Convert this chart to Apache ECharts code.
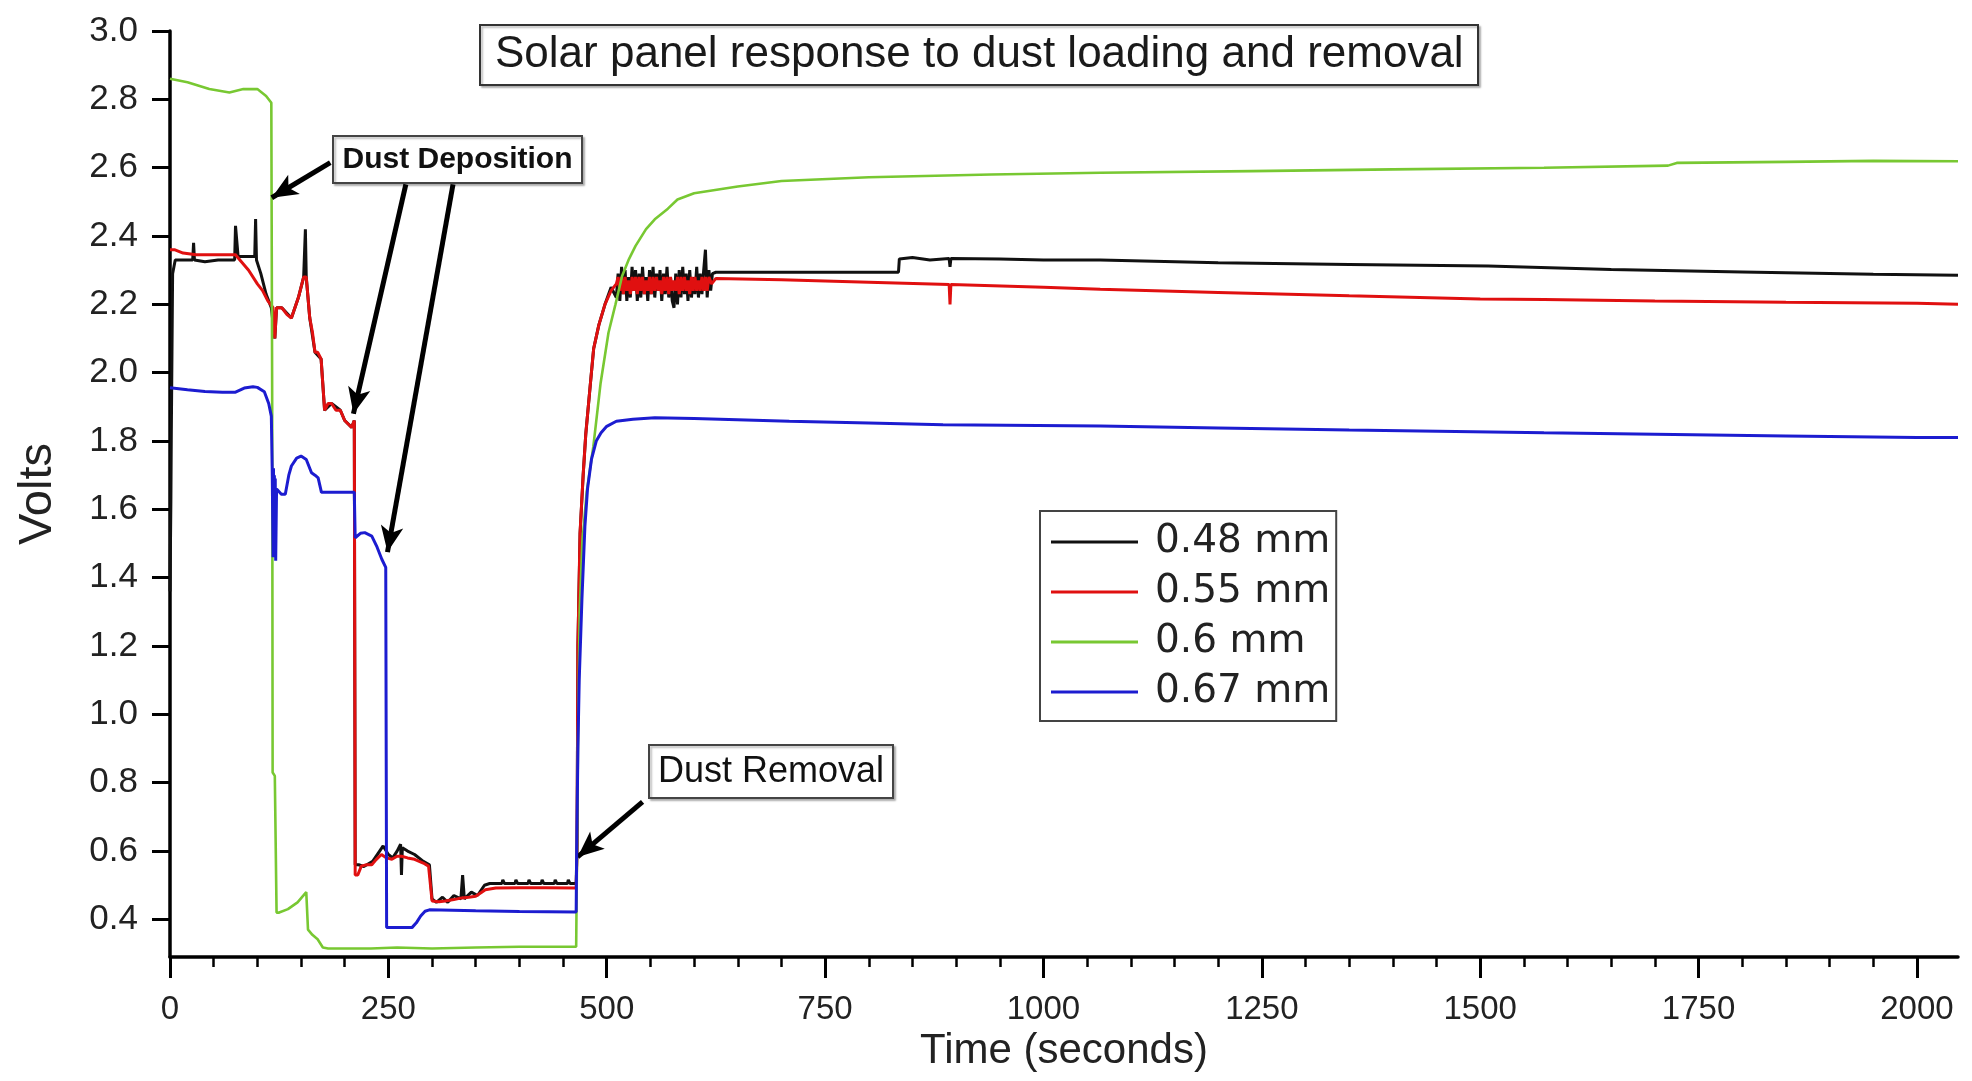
<!DOCTYPE html>
<html>
<head>
<meta charset="utf-8">
<script src="https://cdn.jsdelivr.net/npm/echarts@6/dist/echarts.min.js"></script>
<style>
html,body{margin:0;padding:0;background:#fff;}
#chart{width:1972px;height:1081px;}
</style>
</head>
<body>
<div id="chart"></div>
<script>
// ---- Data (time in seconds, voltage in volts) ----
const seriesNames = ['0.48 mm', '0.55 mm', '0.6 mm', '0.67 mm'];

const s048 = [
  [0,1.36],[1,1.62],[1.5,1.82],[3,2.29],[6,2.33],[15,2.33],[26,2.33],[27,2.38],[28,2.33],[40,2.325],[55,2.33],
  [74,2.33],[75,2.43],[77,2.43],[78,2.34],[90,2.34],[97,2.34],[98,2.45],[99,2.33],[104,2.29],[110,2.23],[116,2.19],
  [120,2.10],[122,2.19],[128,2.19],[139,2.16],[147,2.22],[153,2.28],[155,2.42],[156,2.28],[160,2.16],[166,2.06],
  [173,2.04],[177,1.89],[185,1.91],[195,1.89],[200,1.86],[208,1.84],[211,1.86],[212,0.56],[216,0.56],[222,0.555],
  [232,0.57],[240,0.60],[244,0.615],[250,0.59],[255,0.58],[260,0.60],[264,0.62],[265,0.53],[266,0.61],[272,0.60],
  [280,0.59],[290,0.57],[297,0.56],[300,0.46],[305,0.45],[312,0.465],[318,0.45],[325,0.47],[333,0.46],[335,0.53],
  [337,0.46],[345,0.48],[352,0.47],[360,0.50],[366,0.505],[380,0.505],[381,0.516],[383,0.505],[395,0.505],[396,0.516],
  [398,0.505],[410,0.505],[411,0.516],[413,0.505],[425,0.505],[426,0.516],[428,0.505],[440,0.505],[441,0.516],
  [443,0.505],[455,0.505],[456,0.516],[458,0.505],[465,0.505],[466,0.62],[467,1.2],[469.5,1.53],[473,1.70],[476,1.82],
  [481,1.96],[485,2.07],[491,2.14],[498,2.20],[505,2.25],[511,2.22],
  [513,2.29],[515,2.21],[517,2.31],[519,2.23],[521,2.30],[523,2.21],[525,2.28],[527,2.22],[529,2.31],[531,2.24],
  [533,2.30],[535,2.21],[537,2.29],[539,2.22],[541,2.31],[543,2.23],[545,2.28],[547,2.21],[549,2.30],[551,2.23],
  [553,2.31],[555,2.22],[557,2.29],[559,2.24],[561,2.30],[563,2.21],[565,2.29],[567,2.23],[569,2.31],[571,2.22],
  [573,2.28],[575,2.21],[577,2.19],[579,2.29],[581,2.20],[583,2.30],[585,2.22],[587,2.31],[589,2.23],[591,2.29],
  [593,2.21],[595,2.30],[597,2.22],[599,2.28],[601,2.23],[603,2.31],[605,2.22],[607,2.29],[609,2.23],[611,2.30],
  [613,2.36],[615,2.22],[617,2.30],[619,2.24],[621,2.29],
  [625,2.294],[834,2.294],[835,2.333],[850,2.337],[870,2.33],[892,2.334],[893,2.31],
  [894,2.334],[950,2.333],[1000,2.33],[1065,2.33],[1200,2.322],[1350,2.317],[1509,2.312],[1650,2.302],[1800,2.295],
  [1950,2.288],[2047,2.285]
];

const s055 = [
  [0,2.36],[5,2.36],[15,2.35],[30,2.345],[50,2.345],[75,2.345],[80,2.33],[90,2.30],[100,2.26],[106,2.24],[112,2.21],
  [118,2.19],[120,2.10],[122,2.19],[128,2.19],[134,2.17],[139,2.16],[147,2.22],[153,2.28],[156,2.28],[160,2.16],
  [163,2.12],[166,2.06],[169,2.06],[173,2.04],[177,1.89],[181,1.91],[185,1.91],[190,1.89],[195,1.89],[200,1.86],
  [204,1.85],[208,1.84],[211,1.86],[212,0.53],[215,0.53],[219,0.556],[225,0.56],[231,0.56],[236,0.575],[242,0.59],
  [248,0.58],[254,0.576],[260,0.585],[265,0.585],[272,0.58],[280,0.576],[290,0.565],[296,0.556],[300,0.454],
  [308,0.452],[315,0.454],[325,0.458],[334,0.463],[342,0.465],[350,0.468],[356,0.478],[361,0.487],[373,0.492],
  [400,0.493],[430,0.493],[465,0.492],[466,0.6],[467,1.2],[469.4,1.53],[473,1.70],[476,1.82],[481,1.96],[485,2.07],
  [491,2.14],[498,2.20],[505,2.24],[511,2.26],
  [513,2.28],[515,2.24],[517,2.28],[519,2.23],[521,2.28],[523,2.24],[525,2.27],[527,2.23],[529,2.28],[531,2.24],
  [533,2.28],[535,2.23],[537,2.28],[539,2.24],[541,2.28],[543,2.23],[545,2.27],[547,2.24],[549,2.28],[551,2.23],
  [553,2.28],[555,2.24],[557,2.28],[559,2.24],[561,2.27],[563,2.23],[565,2.28],[567,2.24],[569,2.28],[571,2.23],
  [573,2.28],[575,2.24],[577,2.27],[579,2.24],[581,2.28],[583,2.23],[585,2.28],[587,2.24],[589,2.28],[591,2.24],
  [593,2.27],[595,2.23],[597,2.28],[599,2.24],[601,2.28],[603,2.24],[605,2.27],[607,2.24],[609,2.28],[611,2.24],
  [613,2.28],[615,2.24],[617,2.28],[620,2.26],
  [625,2.276],[700,2.272],[800,2.265],[892,2.258],[893,2.20],[894,2.258],[1000,2.25],[1065,2.244],[1200,2.235],
  [1350,2.225],[1500,2.216],[1573,2.214],[1700,2.21],[1850,2.206],[2000,2.203],[2047,2.20]
];

const s060 = [
  [0,2.86],[20,2.85],[45,2.83],[68,2.82],[84,2.83],[100,2.83],[110,2.81],[116,2.79],[117,1.90],[117.5,0.83],
  [120,0.82],[122,0.42],[125,0.42],[135,0.43],[146,0.45],[156,0.48],[158,0.37],[163,0.355],[169,0.342],[175,0.318],
  [181,0.315],[230,0.315],[260,0.318],[300,0.315],[350,0.318],[400,0.32],[465,0.32],[466,0.6],[467,0.9],[469,1.3],
  [472,1.5],[477,1.65],[484.7,1.785],[493,1.97],[502,2.117],[510,2.2],[517.6,2.283],[525,2.33],[533,2.371],
  [545,2.42],[555,2.449],[570,2.48],[581,2.507],[600,2.525],[650,2.545],[700,2.561],[800,2.572],[940,2.58],
  [1065,2.585],[1238,2.59],[1400,2.595],[1573,2.60],[1715,2.606],[1725,2.614],[1850,2.617],[1950,2.62],[2047,2.619]
];

const s067 = [
  [0,1.956],[20,1.95],[40,1.945],[60,1.943],[75,1.943],[85,1.955],[95,1.959],[100,1.957],[108,1.944],[113,1.91],
  [116,1.873],[117,1.72],[118,1.46],[118.5,1.72],[119,1.47],[119.5,1.70],[120,1.46],[120.5,1.69],[121,1.45],
  [122,1.66],[127.5,1.644],[132,1.644],[136,1.70],[139,1.727],[145,1.75],[150,1.756],[156,1.746],[162,1.707],
  [166,1.70],[169.6,1.692],[173.4,1.65],[190,1.65],[211,1.65],[212,1.517],[218,1.53],[223,1.532],[231,1.522],
  [237,1.49],[242.5,1.454],[247,1.43],[248,0.376],[260,0.376],[277,0.376],[282,0.39],[287,0.41],[292,0.424],
  [297,0.428],[350,0.425],[400,0.423],[465,0.422],[465.5,0.58],[467,0.9],[468.5,1.1],[471.6,1.337],[475,1.55],
  [478,1.66],[482.5,1.746],[488,1.80],[493.5,1.824],[500,1.843],[511,1.858],[530,1.864],[555,1.868],[600,1.866],
  [709,1.858],[800,1.853],[885,1.848],[1065,1.844],[1200,1.838],[1350,1.832],[1573,1.824],[1700,1.82],
  [1850,1.815],[2000,1.81],[2047,1.81]
];

// Axis ticks
const xMajorTicks = [0,250,500,750,1000,1250,1500,1750,2000];
const xMinorTicks = [50,100,150,200,300,350,400,450,550,600,650,700,800,850,900,950,1050,1100,1150,1200,
  1300,1350,1400,1450,1550,1600,1650,1700,1800,1850,1900,1950];
const yTicks = [0.4,0.6,0.8,1.0,1.2,1.4,1.6,1.8,2.0,2.2,2.4,2.6,2.8,3.0];

// Annotation arrows (data coordinates: [time, volts]) : from -> to
const arrowFrom = [[183.5,2.615],[270,2.551],[324,2.551],[541,0.744]];
const arrowTo   = [[116.5,2.512],[210,1.88],[249,1.475],[466.7,0.583]];

const colors = ['#111111', '#e01010', '#78c832', '#1c1cd0'];

const chart = echarts.init(document.getElementById('chart'));

const lineSeries = [s048, s055, s060, s067].map((d, i) => ({
  name: seriesNames[i],
  type: 'line',
  data: d,
  xAxisIndex: 0,
  yAxisIndex: 0,
  showSymbol: false,
  symbol: 'none',
  sampling: false,
  animation: false,
  color: colors[i],
  lineStyle: { color: colors[i], width: i === 2 ? 2.6 : 3 },
  emphasis: { disabled: true },
  z: 2 + i
}));

// arrows drawn on top of everything
lineSeries[3].markLine = {
  silent: true,
  animation: false,
  symbol: ['none', 'arrow'],
  symbolSize: [17, 26],
  label: { show: false },
  emphasis: { disabled: true },
  itemStyle: { color: '#000' },
  lineStyle: { color: '#000', width: 5, type: 'solid' },
  data: arrowFrom.map((f, i) => [{ coord: f }, { coord: arrowTo[i] }])
};

const option = {
  backgroundColor: '#ffffff',
  animation: false,
  title: {
    text: 'Solar panel response to dust loading and removal',
    left: 480,
    top: 25,
    padding: [8, 15, 8, 15],
    borderColor: '#333',
    borderWidth: 2,
    backgroundColor: '#fff',
    shadowColor: 'rgba(0,0,0,0.25)',
    shadowBlur: 2,
    shadowOffsetX: 2,
    shadowOffsetY: 2,
    textStyle: { fontFamily: 'Liberation Sans', fontSize: 44, fontWeight: 'normal', color: '#1a1a1a' }
  },
  legend: {
    orient: 'vertical',
    left: 1040,
    top: 511,
    padding: [10, 6, 8, 11],
    itemGap: 8,
    itemWidth: 87,
    itemHeight: 3,
    icon: 'rect',
    borderColor: '#444',
    borderWidth: 2,
    backgroundColor: '#fff',
    selectedMode: false,
    data: seriesNames,
    textStyle: { fontFamily: 'DejaVu Sans', fontSize: 39, lineHeight: 42, color: '#222', padding: [0, 0, 0, 12] }
  },
  grid: { left: 170, right: 14, top: 31, bottom: 124, containLabel: false },
  xAxis: [
    {
      type: 'value',
      min: 0,
      max: 2047,
      position: 'bottom',
      name: 'Time (seconds)',
      nameLocation: 'middle',
      nameGap: 72,
      nameTextStyle: { fontFamily: 'Liberation Sans', fontSize: 42, color: '#222' },
      splitLine: { show: false },
      axisLine: { show: true, onZero: false, lineStyle: { color: '#000', width: 3.5 } },
      axisTick: { show: true, customValues: xMajorTicks, length: 21, lineStyle: { color: '#000', width: 3 } },
      axisLabel: {
        show: true, customValues: xMajorTicks, margin: 36,
        fontFamily: 'Liberation Sans', fontSize: 33, color: '#222',
        formatter: v => String(v)
      }
    },
    {
      type: 'value',
      min: 0,
      max: 2047,
      position: 'bottom',
      splitLine: { show: false },
      axisLine: { show: false, onZero: false },
      axisTick: { show: true, customValues: xMinorTicks, length: 10, lineStyle: { color: '#000', width: 2.5 } },
      axisLabel: { show: false }
    }
  ],
  yAxis: {
    type: 'value',
    min: 0.29,
    max: 3.0,
    position: 'left',
    name: 'Volts',
    nameLocation: 'middle',
    nameGap: 108,
    nameTextStyle: { fontFamily: 'Liberation Sans', fontSize: 47, color: '#222' },
    splitLine: { show: false },
    axisLine: { show: true, onZero: false, lineStyle: { color: '#000', width: 3.5 } },
    axisTick: { show: true, customValues: yTicks, length: 18, lineStyle: { color: '#000', width: 3 } },
    axisLabel: {
      show: true, customValues: yTicks, margin: 32,
      fontFamily: 'Liberation Sans', fontSize: 35, color: '#222',
      formatter: v => Number(v).toFixed(1)
    }
  },
  graphic: [
    {
      type: 'group', z: 100,
      children: [
        { type: 'rect', shape: { x: 333, y: 136, width: 249, height: 47 },
          style: { fill: '#fff', stroke: '#444', lineWidth: 2, shadowColor: 'rgba(0,0,0,0.25)', shadowBlur: 2, shadowOffsetX: 2, shadowOffsetY: 2 } },
        { type: 'text', x: 457.5, y: 160,
          style: { text: 'Dust Deposition', fontFamily: 'Liberation Sans', fontWeight: 'bold', fontSize: 30, fill: '#111', align: 'center', verticalAlign: 'middle' } }
      ]
    },
    {
      type: 'group', z: 100,
      children: [
        { type: 'rect', shape: { x: 649, y: 745, width: 244, height: 53 },
          style: { fill: '#fff', stroke: '#444', lineWidth: 2, shadowColor: 'rgba(0,0,0,0.25)', shadowBlur: 2, shadowOffsetX: 2, shadowOffsetY: 2 } },
        { type: 'text', x: 771, y: 772,
          style: { text: 'Dust Removal', fontFamily: 'Liberation Sans', fontSize: 36, fill: '#111', align: 'center', verticalAlign: 'middle' } }
      ]
    }
  ],
  series: lineSeries
};

chart.setOption(option);
</script>
</body>
</html>
